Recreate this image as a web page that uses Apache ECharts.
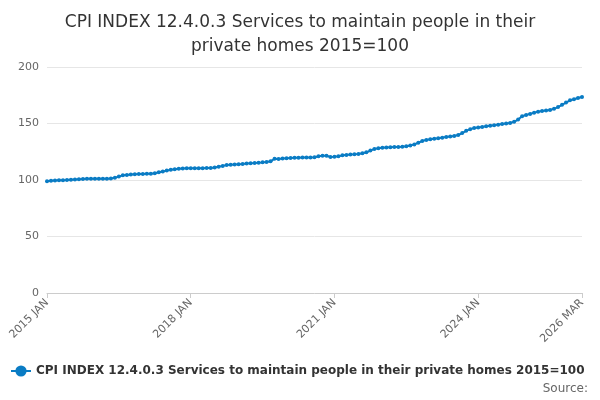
<!DOCTYPE html>
<html>
<head>
<meta charset="utf-8">
<script src="https://cdn.jsdelivr.net/npm/echarts@6/dist/echarts.min.js"></script>
<style>html,body{margin:0;padding:0;background:#fff}#c{width:600px;height:400px}</style>
</head>
<body>
<div id="c"></div>
<script>
const seriesName = 'CPI INDEX 12.4.0.3 Services to maintain people in their private homes 2015=100';
const monthNames = ['JAN','FEB','MAR','APR','MAY','JUN','JUL','AUG','SEP','OCT','NOV','DEC'];
const values = [
  99.0,99.3,99.5,99.7,99.8,100.0,100.3,100.5,100.7,100.8,101.0,101.0,
  101.0,101.2,101.2,101.0,101.3,102.0,103.0,104.2,104.5,104.8,105.0,105.2,
  105.3,105.5,105.6,106.0,106.8,107.5,108.3,109.0,109.6,110.0,110.2,110.3,
  110.3,110.4,110.4,110.5,110.6,110.7,111.0,111.8,112.5,113.2,113.6,113.8,
  114.0,114.2,114.5,114.8,115.0,115.3,115.6,116.0,116.5,118.8,118.5,119.0,
  119.3,119.5,119.7,119.8,119.9,120.0,120.0,120.2,121.0,121.5,121.5,120.3,
  120.5,121.0,121.8,122.2,122.5,122.7,123.0,123.6,124.5,126.0,127.5,128.0,
  128.5,128.8,129.0,129.2,129.3,129.5,129.8,130.5,131.5,133.0,134.5,135.5,
  136.0,136.5,137.0,137.5,138.0,138.5,139.0,139.8,141.5,143.5,145.0,146.0,
  146.5,147.0,147.5,148.0,148.5,149.0,149.5,150.0,150.5,151.5,153.5,156.5,
  157.5,158.5,159.5,160.5,161.0,161.5,162.0,163.0,164.5,166.5,168.5,170.5,
  171.5,172.5,173.5
];
const categories = values.map((v, i) => (2015 + Math.floor(i / 12)) + ' ' + monthNames[i % 12]);
const shownLabels = ['2015 JAN', '2018 JAN', '2021 JAN', '2024 JAN', '2026 MAR'];

const chart = echarts.init(document.getElementById('c'));
chart.setOption({
  title: {
    text: 'CPI INDEX 12.4.0.3 Services to maintain people in their\nprivate homes 2015=100',
    left: 'center', top: 6,
    textStyle: {fontFamily: 'DejaVu Sans', fontSize: 17, fontWeight: 'normal', color: '#333', lineHeight: 24}
  },
  grid: {left: 47, right: 18, top: 67, bottom: 107},
  legend: {
    data: [seriesName], left: 5, bottom: 18, itemWidth: 20,
    textStyle: {fontFamily: 'DejaVu Sans', fontSize: 12, fontWeight: 'bold', color: '#333'}
  },
  graphic: [{type: 'text', right: 12, bottom: 5,
    style: {text: 'Source:', fontFamily: 'DejaVu Sans', fontSize: 12, fill: '#666'}}],
  xAxis: {
    type: 'category', data: categories, boundaryGap: false,
    axisLine: {lineStyle: {color: '#ccc'}},
    axisTick: {show: true, lineStyle: {color: '#ccc'}, interval: (i, v) => shownLabels.includes(v)},
    axisLabel: {interval: (i, v) => shownLabels.includes(v), rotate: 45, color: '#666',
      fontFamily: 'DejaVu Sans', fontSize: 11}
  },
  yAxis: {
    type: 'value', min: 0, max: 200, interval: 50,
    axisLabel: {color: '#666', fontFamily: 'DejaVu Sans', fontSize: 11},
    splitLine: {lineStyle: {color: '#e6e6e6'}}
  },
  series: [{
    name: seriesName, type: 'line', data: values,
    symbol: 'circle', symbolSize: 4, showAllSymbol: true,
    itemStyle: {color: '#0a7cc4'}, lineStyle: {width: 2, color: '#0a7cc4'}
  }]
});
</script>
</body>
</html>
